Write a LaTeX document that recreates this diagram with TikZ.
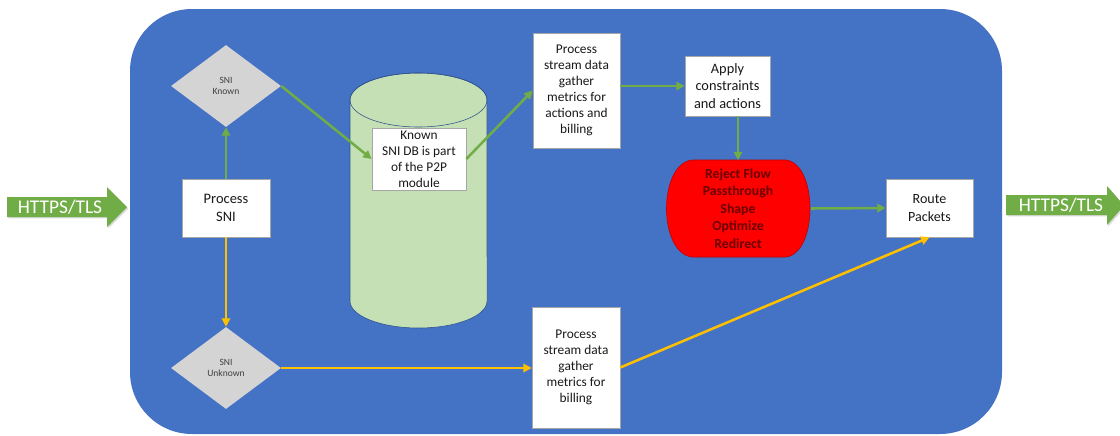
\documentclass[tikz,border=0pt]{standalone}
\usepackage{fontspec}
\setmainfont{Carlito}
\usetikzlibrary{positioning,shapes.geometric,arrows.meta,shadows}

\definecolor{panelblue}{HTML}{4472C4}
\definecolor{flowgreen}{HTML}{70AD47}
\definecolor{flowyellow}{HTML}{FFC000}
\definecolor{dbgreen}{HTML}{C5E0B4}
\definecolor{dbline}{HTML}{2F528F}
\definecolor{decgray}{HTML}{D4D4D4}
\definecolor{darkred}{HTML}{6A0000}

\tikzset{
  box/.style={draw=gray!70, line width=0.4pt, fill=white, align=center,
    inner sep=1pt, text=black!90,
    drop shadow={shadow xshift=0.8pt, shadow yshift=-0.8pt, opacity=0.3}},
  decision/.style={diamond, fill=decgray, inner sep=0pt, align=center,
    text=black!75, font=\fontsize{6.8}{8.3}\selectfont,
    minimum width=2.75cm, minimum height=2.05cm},
  action/.style={inner sep=0pt, align=center,
    text=darkred, font=\fontsize{9.8}{12.5}\selectfont\bfseries,
    minimum width=3.625cm, minimum height=2.4cm},
  goflow/.style={draw=flowgreen, line width=1.8pt, -{Triangle[length=6pt,width=6pt]}},
  otherflow/.style={draw=flowyellow, line width=1.8pt, -{Triangle[length=6pt,width=6pt]}},
  bannertext/.style={text=white, font=\fontsize{13.8}{14}\selectfont, inner sep=0pt}
}

\begin{document}
\begin{tikzpicture}[x=0.025cm, y=-0.025cm]
  \useasboundingbox (0,0) rectangle (1120,435);

  % panel
  \fill[panelblue, rounded corners=1.55cm] (130,9) rectangle (1002,434);

  % in / out banners
  \fill[flowgreen, drop shadow={shadow xshift=1pt, shadow yshift=-1pt, opacity=0.3}]
    (7,197) -- (107,197) -- (107,187) -- (127,207) -- (107,227) -- (107,217) -- (7,217) -- cycle;
  \node[bannertext] (tlsin) at (60,207) {HTTPS/TLS};
  \fill[flowgreen, drop shadow={shadow xshift=1pt, shadow yshift=-1pt, opacity=0.3}]
    (1006,195) -- (1107,195) -- (1107,186) -- (1124,205.5) -- (1107,225) -- (1107,215) -- (1006,215) -- cycle;
  \node[bannertext] (tlsout) at (1061,205.5) {HTTPS/TLS};

  % database
  \fill[dbgreen, draw=dbline, line width=0.4pt]
    (350,100) -- (350,301) arc[start angle=180, end angle=360, x radius=1.7125cm, y radius=0.675cm]
    -- (487,100) arc[start angle=0, end angle=180, x radius=1.7125cm, y radius=0.675cm] -- cycle;
  \draw[dbline, line width=0.4pt] (418.5,100) ellipse [x radius=1.7125cm, y radius=0.675cm];

  % actions shape
  \fill[red, draw=red!75!black, line width=0.4pt]
    (692,160) -- (786,160) .. controls (818,164) and (818,253) .. (786,257)
    -- (692,257) .. controls (658,253) and (658,164) .. (692,160) -- cycle;

  \node[box, minimum width=2.2cm, minimum height=1.45cm, font=\fontsize{10.3}{12.8}\selectfont]
    (procsni) at (226,208) {Process\\SNI};
  \node[decision] (known) at (226,86) {SNI\\Known};
  \node[decision] (unknown) at (226,368) {SNI\\Unknown};
  \node[box, minimum width=2.35cm, minimum height=1.55cm, font=\fontsize{9.5}{11.4}\selectfont]
    (knowndb) at (419,159) {Known\\SNI DB is part\\of the P2P\\module};
  \node[box, minimum width=2.175cm, minimum height=2.875cm, font=\fontsize{9.5}{11.4}\selectfont]
    (stream) at (576.5,90.5) {Process\\stream data\\gather\\metrics for\\actions and\\billing};
  \node[box, minimum width=2.125cm, minimum height=1.5cm, font=\fontsize{10.2}{12.4}\selectfont]
    (apply) at (727.5,86) {Apply\\constraints\\and actions};
  \node[action] (verdict) at (738,208.5) {Reject Flow\\Passthrough\\Shape\\Optimize\\Redirect};
  \node[box, minimum width=2.175cm, minimum height=1.45cm, font=\fontsize{10}{12.5}\selectfont]
    (route) at (929.5,208) {Route\\Packets};
  \node[box, minimum width=2.2cm, minimum height=3.025cm, font=\fontsize{9.5}{11.4}\selectfont]
    (billstream) at (576,367.5) {Process\\stream data\\gather\\metrics for\\billing};

  % known path
  \draw[goflow] (procsni) -- (known);
  \draw[goflow] (known.east) -- (knowndb.west);
  \draw[goflow] (knowndb.east) -- (stream.west);
  \draw[goflow] (stream.east |- apply.west) -- (apply.west);
  \draw[goflow] (apply.south -| verdict.north) -- (verdict.north);
  \draw[goflow] (verdict.east) -- (route.west);
  % unknown path
  \draw[otherflow] (procsni) -- (unknown);
  \draw[otherflow] (unknown.east) -- (unknown.east -| billstream.west);
  \draw[otherflow] (billstream.east) -- (route.south);
\end{tikzpicture}
\end{document}
